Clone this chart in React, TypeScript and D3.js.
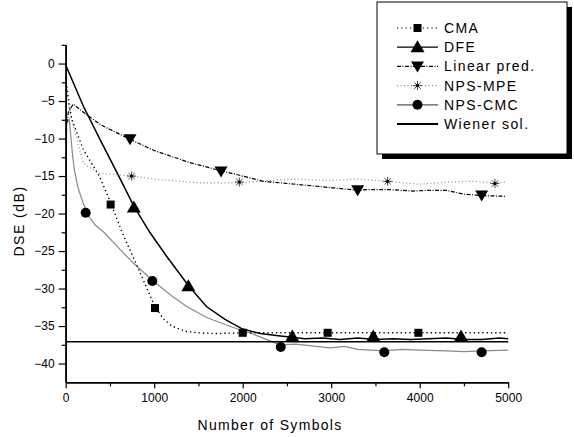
// DSE learning curves for the equalizers
import React, { useRef, useEffect } from "react";
import * as d3 from "d3";

type Pt = [number, number];

// curves: [number of symbols, DSE in dB]
const cmaCurve: Pt[] = [
  [0, -1.9], [40, -5.5], [70, -7.5], [200, -11.5], [380, -15], [500, -18.3], [640, -22.6],
  [800, -26.8], [900, -29.5], [1000, -32.2], [1100, -34], [1200, -35], [1350, -35.7],
  [1500, -35.9], [1700, -36.0], [2000, -35.9], [2500, -35.9], [3000, -35.9], [3500, -35.9],
  [4000, -35.9], [4500, -35.9], [5000, -35.9],
];
const dfeCurve: Pt[] = [
  [0, -0.2], [200, -5.7], [400, -10.4], [600, -15], [770, -19], [950, -22.5], [1140, -25.7],
  [1386, -29.6], [1590, -32.4], [1800, -34.1], [2000, -35.4], [2200, -36], [2400, -36.3],
  [2560, -36.5], [2700, -36.7], [2900, -36.6], [3100, -36.8], [3300, -36.6], [3500, -36.8],
  [3700, -36.7], [3900, -36.8], [4100, -36.7], [4300, -36.6], [4500, -36.8], [4700, -36.8],
  [4900, -36.6], [5000, -36.7],
];
const linearCurve: Pt[] = [
  [0, -9], [30, -6.5], [85, -5.4], [200, -6.5], [400, -8.2], [727, -10.1], [1000, -11.6],
  [1400, -13.2], [1755, -14.3], [2000, -15], [2230, -15.7], [2420, -15.9], [2870, -16.4],
  [3300, -16.9], [3400, -16.8], [3650, -16.8], [3920, -17.0], [4100, -16.9], [4300, -16.9],
  [4490, -17.4], [4700, -17.6], [4965, -17.7],
];
const mpeCurve: Pt[] = [
  [0, -2.5], [40, -6], [100, -9], [200, -13.3], [370, -14.6], [745, -15], [1000, -15.4],
  [1500, -15.9], [2000, -15.9], [2300, -15.6], [2600, -15.4], [3000, -15.6], [3300, -15.4],
  [3640, -15.7], [4000, -16.1], [4300, -15.8], [4600, -15.7], [4850, -15.9], [4975, -15.8],
];
const cmcCurve: Pt[] = [
  [0, -29], [10, -8], [40, -7.4], [60, -10], [80, -12.5], [100, -14.3], [140, -16.6],
  [200, -18.7], [260, -20.3], [330, -21.5], [440, -22.6], [600, -24.6], [764, -26.6],
  [979, -28.9], [1200, -31], [1367, -32.4], [1600, -33.9], [1894, -35.2], [2100, -36],
  [2421, -37.5], [2600, -37.4], [2987, -37.9], [3150, -37.7], [3300, -38.1], [3600, -38.3],
  [3800, -38.1], [4000, -38.2], [4300, -38.3], [4500, -38.4], [4693, -38.3], [5000, -38.2],
];
const wienerLevel = -37.1;

// marker positions
const cmaMarks: Pt[] = [[508, -18.8], [1009, -32.6], [2000, -35.9], [2960, -35.9], [3985, -35.9]];
const dfeMarks: Pt[] = [[770, -19.2], [1386, -29.7], [2560, -36.4], [3476, -36.4], [4467, -36.4]];
const linearMarks: Pt[] = [[727, -10.1], [1755, -14.4], [3299, -16.9], [4700, -17.6]];
const mpeMarks: Pt[] = [[745, -15.0], [1962, -15.8], [3638, -15.7], [4850, -16.0]];
const cmcMarks: Pt[] = [[226, -19.9], [979, -29.0], [2430, -37.8], [3600, -38.5], [4700, -38.5]];

const xTicks = [0, 1000, 2000, 3000, 4000, 5000];
const yTicks = [0, -5, -10, -15, -20, -25, -30, -35, -40];
const legendNames = ["CMA", "DFE", "Linear pred.", "NPS-MPE", "NPS-CMC", "Wiener sol."];

const font = "'Liberation Sans', Arial, sans-serif";
const grey = "#8a8a8a";

const App = () => {
  const svgRef = useRef<SVGSVGElement>(null);

  useEffect(() => {
    const width = 574;
    const height = 437;
    const svg = d3.select(svgRef.current).attr("width", width).attr("height", height);
    svg.selectAll("*").remove();

    const x = d3.scaleLinear().domain([0, 5000]).range([65.7, 508.2]);
    const y = d3.scaleLinear().domain([-42.5, 2.5]).range([382.3, 44.8]);

    const line = d3
      .line<Pt>()
      .x((d) => x(d[0]))
      .y((d) => y(d[1]));

    // series lines
    const series = [
      { data: cmcCurve, stroke: grey, width: 1.2, dash: null },
      { data: mpeCurve, stroke: grey, width: 1.2, dash: "1,2.5" },
      { data: linearCurve, stroke: "#000", width: 1.2, dash: "4,1.5,1,1.5" },
      { data: cmaCurve, stroke: "#000", width: 1.4, dash: "1.3,3" },
      { data: dfeCurve, stroke: "#000", width: 1.5, dash: null },
    ];
    series.forEach((s) => {
      svg
        .append("path")
        .attr("d", line(s.data))
        .attr("fill", "none")
        .attr("stroke", s.stroke)
        .attr("stroke-width", s.width)
        .attr("stroke-dasharray", s.dash);
    });

    // Wiener solution
    svg
      .append("line")
      .attr("x1", x(0))
      .attr("x2", x(5000))
      .attr("y1", y(wienerLevel))
      .attr("y2", y(wienerLevel))
      .attr("stroke", "#000")
      .attr("stroke-width", 1.5);

    // marker drawers
    const drawSquare = (g, cx, cy) =>
      g.append("rect").attr("x", cx - 4).attr("y", cy - 4).attr("width", 8).attr("height", 8).attr("fill", "#000");
    const drawUp = (g, cx, cy) =>
      g.append("path").attr("d", `M${cx},${cy - 7}L${cx + 7},${cy + 5}L${cx - 7},${cy + 5}Z`).attr("fill", "#000");
    const drawDown = (g, cx, cy) =>
      g.append("path").attr("d", `M${cx - 6.5},${cy - 5}L${cx + 6.5},${cy - 5}L${cx},${cy + 6}Z`).attr("fill", "#000");
    const drawCircle = (g, cx, cy) =>
      g.append("circle").attr("cx", cx).attr("cy", cy).attr("r", 5).attr("fill", "#000");
    const drawStar = (g, cx, cy) => {
      const r = 4.5;
      [0, 45, 90, 135].forEach((a) => {
        const rad = (a * Math.PI) / 180;
        g.append("line")
          .attr("x1", cx - r * Math.cos(rad))
          .attr("y1", cy - r * Math.sin(rad))
          .attr("x2", cx + r * Math.cos(rad))
          .attr("y2", cy + r * Math.sin(rad))
          .attr("stroke", "#444")
          .attr("stroke-width", 1);
      });
      g.append("circle").attr("cx", cx).attr("cy", cy).attr("r", 1.5).attr("fill", "#000");
    };

    const marks = svg.append("g");
    cmcMarks.forEach((d) => drawCircle(marks, x(d[0]), y(d[1])));
    mpeMarks.forEach((d) => drawStar(marks, x(d[0]), y(d[1])));
    linearMarks.forEach((d) => drawDown(marks, x(d[0]), y(d[1])));
    cmaMarks.forEach((d) => drawSquare(marks, x(d[0]), y(d[1])));
    dfeMarks.forEach((d) => drawUp(marks, x(d[0]), y(d[1])));

    // axes
    const styleAxis = (g) => {
      g.select(".domain").attr("stroke", "#000").attr("stroke-width", 1.6);
      g.selectAll(".tick line").attr("stroke", "#000").attr("stroke-width", 1.2);
      g.selectAll(".tick text").attr("font-family", font).attr("font-size", 12).attr("fill", "#000");
    };

    const minorX = d3.range(500, 5000, 1000);
    svg
      .append("g")
      .attr("transform", `translate(0,${y(-42.5)})`)
      .call(d3.axisBottom(x).tickValues(minorX).tickSize(4).tickFormat(() => "").tickSizeOuter(0))
      .call(styleAxis);
    svg
      .append("g")
      .attr("transform", `translate(0,${y(-42.5)})`)
      .call(d3.axisBottom(x).tickValues(xTicks).tickSize(6).tickPadding(5).tickSizeOuter(0).tickFormat(d3.format("d")))
      .call(styleAxis);

    const minorY = d3.range(2.5, -42.5, -5);
    svg
      .append("g")
      .attr("transform", `translate(${x(0)},0)`)
      .call(d3.axisLeft(y).tickValues(minorY).tickSize(4).tickFormat(() => "").tickSizeOuter(0))
      .call(styleAxis);
    svg
      .append("g")
      .attr("transform", `translate(${x(0)},0)`)
      .call(d3.axisLeft(y).tickValues(yTicks).tickSize(7).tickPadding(4).tickSizeOuter(0).tickFormat(d3.format("d")))
      .call(styleAxis);

    // axis titles
    svg
      .append("text")
      .attr("x", 270)
      .attr("y", 430)
      .attr("text-anchor", "middle")
      .attr("font-family", font)
      .attr("font-size", 14)
      .attr("letter-spacing", 1.3)
      .text("Number of Symbols");
    svg
      .append("text")
      .attr("transform", "translate(24,221) rotate(-90)")
      .attr("text-anchor", "middle")
      .attr("font-family", font)
      .attr("font-size", 14)
      .attr("letter-spacing", 1.5)
      .text("DSE (dB)");

    // legend
    const lg = svg.append("g");
    lg.append("rect").attr("x", 382).attr("y", 7).attr("width", 190).attr("height", 152).attr("fill", "#000");
    lg.append("rect")
      .attr("x", 377)
      .attr("y", 2)
      .attr("width", 190)
      .attr("height", 152)
      .attr("fill", "#fff")
      .attr("stroke", "#000")
      .attr("stroke-width", 1);

    const legendStyles = [
      { stroke: "#000", width: 1.2, dash: "1.3,3", mark: drawSquare },
      { stroke: "#000", width: 1.3, dash: null, mark: drawUp },
      { stroke: "#000", width: 1.2, dash: "4,1.5,1,1.5", mark: drawDown },
      { stroke: grey, width: 1.2, dash: "1,2.5", mark: drawStar },
      { stroke: "#555", width: 1.3, dash: null, mark: drawCircle },
      { stroke: "#000", width: 1.8, dash: null, mark: null },
    ];
    legendNames.forEach((name, i) => {
      const ry = 28 + i * 19.2;
      const st = legendStyles[i];
      lg.append("line")
        .attr("x1", 397)
        .attr("x2", 438)
        .attr("y1", ry)
        .attr("y2", ry)
        .attr("stroke", st.stroke)
        .attr("stroke-width", st.width)
        .attr("stroke-dasharray", st.dash);
      if (st.mark) st.mark(lg, 417.5, ry);
      lg.append("text")
        .attr("x", 444)
        .attr("y", ry + 5)
        .attr("font-family", font)
        .attr("font-size", 14)
        .attr("letter-spacing", 1.4)
        .text(name);
    });
  }, []);

  return (
    <div style={{ position: "absolute", left: 0, top: 0 }}>
      <svg ref={svgRef} style={{ display: "block" }}></svg>
    </div>
  );
};

export default App;
